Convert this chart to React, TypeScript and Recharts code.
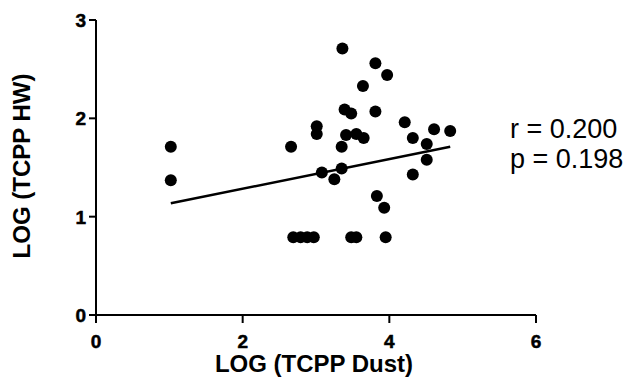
import React from 'react';
import { ScatterChart, Scatter, XAxis, YAxis } from 'recharts';

const dustLog = [1.02, 1.02, 2.66, 3.01, 3.01, 3.08, 3.25, 3.36, 3.81, 3.97, 3.64, 3.39, 3.48, 3.81, 4.21, 3.41, 3.55, 3.65, 4.61, 4.83, 4.32, 4.51, 3.35, 4.51, 3.35, 4.32, 3.83, 3.93, 3.48, 3.55, 3.95, 2.69, 2.79, 2.88, 2.97];
const hwLog = [1.71, 1.37, 1.71, 1.92, 1.84, 1.45, 1.38, 2.71, 2.56, 2.44, 2.33, 2.09, 2.05, 2.07, 1.96, 1.83, 1.84, 1.80, 1.89, 1.87, 1.80, 1.74, 1.71, 1.58, 1.49, 1.43, 1.21, 1.09, 0.79, 0.79, 0.79, 0.79, 0.79, 0.79, 0.79];

const fitX = [1.02, 4.83];
const fitSlope = 0.151;
const fitIntercept = 0.982;

const xTicks = [0, 2, 4, 6];
const yTicks = [0, 1, 2, 3];

const xTitle = 'LOG (TCPP Dust)';
const yTitle = 'LOG (TCPP HW)';
const statLines = ['r = 0.200', 'p = 0.198'];

const points = dustLog.map((x, i) => ({ x, y: hwLog[i] }));
const fitLine = fitX.map((x) => ({ x, y: fitIntercept + fitSlope * x }));
const xTickMarks = xTicks.map((t) => ({ x: t, y: 0, label: String(t) }));
const yTickMarks = yTicks.map((t) => ({ x: 0, y: t, label: String(t) }));

const FONT = 'Liberation Sans, Arial, Helvetica, sans-serif';

const XTickMark = (p: any) => (
  <g>
    <line x1={p.cx} y1={p.cy} x2={p.cx} y2={p.cy + 8} stroke="#000" strokeWidth={2} />
    <text
      x={p.cx}
      y={p.cy + 33}
      textAnchor="middle"
      fill="#000"
      stroke="#000"
      strokeWidth={0.5}
      fontSize={19}
      fontWeight="bold"
      fontFamily="Arial"
    >
      {p.payload.label}
    </text>
  </g>
);

const YTickMark = (p: any) => (
  <g>
    <line x1={p.cx - 7} y1={p.cy} x2={p.cx} y2={p.cy} stroke="#000" strokeWidth={2} />
    <text
      x={p.cx - 10}
      y={p.cy + 7}
      textAnchor="end"
      fill="#000"
      stroke="#000"
      strokeWidth={0.5}
      fontSize={19}
      fontWeight="bold"
      fontFamily="Arial"
    >
      {p.payload.label}
    </text>
  </g>
);

export default function App() {
  return (
    <div style={{ position: 'relative', width: 624, height: 375, fontFamily: FONT }}>
      <ScatterChart width={624} height={375} margin={{ top: 12, right: 96, left: 0, bottom: 0 }}>
        <XAxis
          type="number"
          dataKey="x"
          domain={[0, 6]}
          ticks={xTicks}
          interval={0}
          height={68}
          stroke="#000"
          strokeWidth={2}
          tick={false}
        />
        <YAxis
          type="number"
          dataKey="y"
          domain={[0, 3]}
          ticks={yTicks}
          interval={0}
          width={88}
          stroke="#000"
          strokeWidth={2}
          tick={false}
        />
        <Scatter
          data={fitLine}
          isAnimationActive={false}
          line={{ stroke: '#000', strokeWidth: 2.5 }}
          shape={() => null}
        />
        <Scatter
          data={points}
          isAnimationActive={false}
          fill="#000"
          shape={(p: any) => <circle cx={p.cx} cy={p.cy} r={6} fill="#000" />}
        />
        <Scatter data={xTickMarks} isAnimationActive={false} shape={XTickMark} />
        <Scatter data={yTickMarks} isAnimationActive={false} shape={YTickMark} />
      </ScatterChart>
      <div
        style={{
          position: 'absolute',
          left: 306,
          top: 356,
          transform: 'translate(-50%, -50%)',
          whiteSpace: 'nowrap',
          fontSize: 24,
          lineHeight: '20px',
          fontWeight: 700,
          color: '#000',
        }}
      >
        {xTitle}
      </div>
      <div
        style={{
          position: 'absolute',
          left: 14,
          top: 158,
          transform: 'translate(-50%, -50%) rotate(-90deg)',
          whiteSpace: 'nowrap',
          fontSize: 24,
          lineHeight: '20px',
          fontWeight: 700,
          color: '#000',
        }}
      >
        {yTitle}
      </div>
      <div
        style={{
          position: 'absolute',
          left: 502,
          top: 106,
          fontSize: 27,
          lineHeight: '30px',
          color: '#000',
          whiteSpace: 'nowrap',
        }}
      >
        {statLines.map((s) => (
          <div key={s}>{s}</div>
        ))}
      </div>
    </div>
  );
}
